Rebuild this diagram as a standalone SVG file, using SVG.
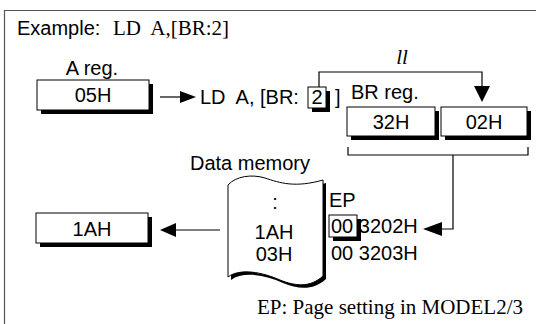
<svg xmlns="http://www.w3.org/2000/svg" width="536" height="324" viewBox="0 0 536 324">
<style>
.s{font-family:"Liberation Sans",Arial,sans-serif;font-size:20px;fill:#000}
.t{font-family:"Liberation Serif","Times New Roman",serif;font-size:21px;fill:#000}
.m{text-anchor:middle}
.box{fill:#fff;stroke:#000;stroke-width:1}
.sh{fill:#000}
.ln{fill:none;stroke:#000;stroke-width:1.2}
</style>
<rect width="536" height="324" fill="#fff"/>
<path d="M4.5,324 V10.5 H536" fill="none" stroke="#555" stroke-width="1.2"/>
<text x="17" y="35" class="s" xml:space="preserve">Example:</text>
<text x="113" y="35" class="t" xml:space="preserve">LD  A,[BR:2]</text>

<g id="areg">
<text x="92" y="75" class="s m">A reg.</text>
<rect x="41" y="84" width="112" height="30" class="sh"/>
<rect x="37" y="80" width="112" height="30" class="box"/>
<text x="93" y="102" class="s m">05H</text>
</g>

<g id="instr">
<text x="200" y="104" class="s" xml:space="preserve" font-size="21">LD  A, [BR:</text>
<rect x="312" y="91" width="18" height="21" class="sh"/>
<rect x="308" y="87" width="18" height="21" class="box"/>
<text x="317" y="104" class="s m">2</text>
<text x="335" y="104" class="s">]</text>
</g>

<g id="brreg">
<text x="351" y="99" class="s">BR reg.</text>
<rect x="351" y="111" width="88" height="29" class="sh"/>
<rect x="347" y="107" width="88" height="29" class="box"/>
<text x="391" y="129" class="s m">32H</text>
<rect x="445" y="111" width="86" height="29" class="sh"/>
<rect x="441" y="107" width="86" height="29" class="box"/>
<text x="484" y="129" class="s m">02H</text>
</g>

<g id="datamem">
<text x="190" y="170" class="s" font-size="21">Data memory</text>
<path d="M231,188 C239,179 255,177 268,181 C283,186 298,191 326,183 V279 C313,291 298,289 283,283 C265,275 243,271 231,280 Z" class="sh"/>
<path d="M228,185 C236,176 252,174 265,178 C280,183 295,188 323,180 V276 C310,288 295,286 280,280 C262,272 240,268 228,277 Z" class="box"/>
<text x="275" y="209" class="s m">:</text>
<text x="274" y="239" class="s m">1AH</text>
<text x="274" y="261" class="s m">03H</text>
</g>

<g id="ep">
<text x="329" y="207" class="s">EP</text>
<rect x="333" y="219" width="28" height="22" class="sh"/>
<rect x="329" y="215" width="28" height="22" class="box"/>
<text x="331" y="233" class="s" xml:space="preserve">00 3202H</text>
<text x="331" y="260" class="s" xml:space="preserve">00 3203H</text>
</g>

<g id="result">
<rect x="40" y="217" width="112" height="30" class="sh"/>
<rect x="36" y="213" width="112" height="30" class="box"/>
<text x="92" y="236" class="s m">1AH</text>
</g>

<g id="connectors">
<line x1="160" y1="97" x2="182" y2="97" class="ln"/>
<polygon points="180,91 196,97 180,103"/>
<path d="M319,87 V72 H482 V88" class="ln"/>
<polygon points="474,86 490,86 482,102"/>
<text x="402" y="64" class="t m" font-style="italic">ll</text>
<path d="M348,147 V155 H528 V147" class="ln"/>
<path d="M453,155 V229 H440" class="ln"/>
<polygon points="442,222 442,236 423,229"/>
<line x1="220" y1="230" x2="173" y2="230" class="ln"/>
<polygon points="176,223 176,237 160,230"/>
</g>

<text x="257" y="314" class="t">EP: Page setting in MODEL2/3</text>
</svg>
